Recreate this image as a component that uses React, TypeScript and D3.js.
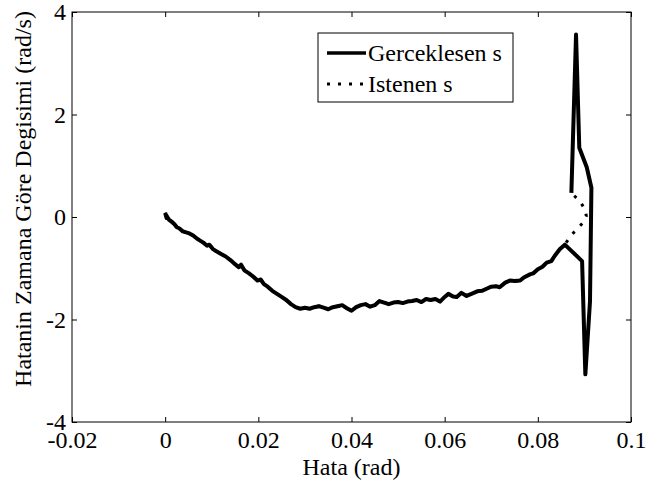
import React, { useEffect, useRef } from "react";
import * as d3 from "d3";

// Gerceklesen s : (hata, hata turevi) pairs
const hataMain = [
  0, 0.0003, 0.0001, 0.0008, 0.0015, 0.002, 0.0025, 0.003, 0.0038, 0.0045,
  0.0052, 0.006, 0.0068, 0.0075, 0.0082, 0.009, 0.0095, 0.0102, 0.011, 0.012,
  0.013, 0.014, 0.015, 0.0158, 0.0163, 0.017, 0.018, 0.019, 0.0198, 0.0205,
  0.0212, 0.022, 0.023, 0.024, 0.025, 0.026, 0.027, 0.028, 0.029, 0.03,
  0.031, 0.032, 0.033, 0.034, 0.035, 0.036, 0.037, 0.038, 0.039, 0.04,
  0.041, 0.042, 0.043, 0.044, 0.045, 0.046, 0.047, 0.048, 0.049, 0.05,
  0.051, 0.052, 0.053, 0.054, 0.055, 0.056, 0.057, 0.058, 0.059, 0.06,
  0.0608, 0.0618, 0.0626, 0.0636, 0.0647, 0.066, 0.067, 0.068, 0.069, 0.07,
  0.071, 0.0718, 0.073, 0.074, 0.075, 0.0762, 0.077, 0.0783, 0.079, 0.08,
  0.081, 0.0819, 0.0829, 0.0836, 0.0847, 0.0858,
];
const turevMain = [
  0.08, -0.02, 0.05, -0.05, -0.1, -0.14, -0.2, -0.22, -0.28, -0.3,
  -0.32, -0.36, -0.42, -0.46, -0.5, -0.56, -0.54, -0.62, -0.67, -0.72,
  -0.77, -0.84, -0.92, -0.98, -0.93, -1.04, -1.1, -1.17, -1.24, -1.22,
  -1.31, -1.36, -1.44, -1.5, -1.56, -1.62, -1.7, -1.76, -1.79, -1.77,
  -1.79, -1.76, -1.74, -1.77, -1.8, -1.76, -1.74, -1.72, -1.78, -1.83,
  -1.76, -1.72, -1.7, -1.75, -1.72, -1.64, -1.67, -1.7, -1.67, -1.66,
  -1.68, -1.65, -1.64, -1.62, -1.66, -1.6, -1.62, -1.6, -1.65, -1.56,
  -1.5, -1.55, -1.56, -1.48, -1.54, -1.49, -1.45, -1.44, -1.4, -1.36,
  -1.35, -1.37, -1.28, -1.24, -1.25, -1.24, -1.18, -1.12, -1.1, -1.02,
  -0.97, -0.89, -0.86, -0.76, -0.63, -0.54,
];
// end of the real trajectory (spikes)
const hataTail = [0.0895, 0.0902, 0.0912, 0.0915, 0.0905, 0.0889, 0.0882, 0.0872];
const turevTail = [-0.86, -3.07, -1.64, 0.57, 0.97, 1.35, 3.56, 0.47];

// Istenen s : follows the main curve, then this small arc
const hataArc = [0.0871, 0.0886, 0.0898, 0.0904, 0.0902, 0.089, 0.0872];
const turevArc = [-0.36, -0.22, -0.1, 0.02, 0.14, 0.31, 0.47];

const xTicks = [-0.02, 0, 0.02, 0.04, 0.06, 0.08, 0.1];
const yTicks = [-4, -2, 0, 2, 4];

const FONT = "'Liberation Serif', 'Times New Roman', serif";
const FS = 24;

function zip(xs: number[], ys: number[]): [number, number][] {
  return xs.map((v, i) => [v, ys[i]]);
}

function drawChart(el: SVGSVGElement) {
  const svg = d3.select(el);
  svg.selectAll("*").remove();

  const width = 671;
  const height = 485;
  const margin = { top: 12, right: 40, bottom: 63, left: 72 };

  const x = d3
    .scaleLinear()
    .domain([-0.02, 0.1])
    .range([margin.left, width - margin.right]);
  const y = d3
    .scaleLinear()
    .domain([-4, 4])
    .range([height - margin.bottom, margin.top]);

  svg.append("rect").attr("width", width).attr("height", height).attr("fill", "#fff");

  const line = d3
    .line<[number, number]>()
    .x((d) => x(d[0]))
    .y((d) => y(d[1]));

  const actual = zip(hataMain, turevMain).concat(zip(hataTail, turevTail));
  const desired = zip(hataMain, turevMain).concat(zip(hataArc, turevArc));

  // dotted first so the solid one covers the shared part
  svg
    .append("path")
    .attr("d", line(desired))
    .attr("fill", "none")
    .attr("stroke", "#000")
    .attr("stroke-width", 3)
    .attr("stroke-dasharray", "3 8");

  svg
    .append("path")
    .attr("d", line(actual))
    .attr("fill", "none")
    .attr("stroke", "#000")
    .attr("stroke-width", 4)
    .attr("stroke-linejoin", "round");

  const fmt = (d: number) => String(+d.toFixed(2));

  const gx = svg
    .append("g")
    .attr("transform", `translate(0,${height - margin.bottom})`)
    .call(d3.axisBottom(x).tickValues(xTicks).tickFormat(fmt as any).tickSizeInner(-5).tickSizeOuter(0).tickPadding(9));
  const gy = svg
    .append("g")
    .attr("transform", `translate(${margin.left},0)`)
    .call(d3.axisLeft(y).tickValues(yTicks).tickFormat(fmt as any).tickSizeInner(-5).tickSizeOuter(0).tickPadding(6));
  svg
    .append("g")
    .attr("transform", `translate(0,${margin.top})`)
    .call(d3.axisTop(x).tickValues(xTicks).tickFormat(() => "").tickSizeInner(-5).tickSizeOuter(0));
  svg
    .append("g")
    .attr("transform", `translate(${width - margin.right},0)`)
    .call(d3.axisRight(y).tickValues(yTicks).tickFormat(() => "").tickSizeInner(-5).tickSizeOuter(0));

  svg.selectAll(".domain").remove();
  svg.selectAll(".tick line").attr("stroke", "#000");
  [gx, gy].forEach((g) =>
    g.selectAll("text").attr("font-family", FONT).attr("font-size", FS).attr("fill", "#000")
  );

  svg
    .append("rect")
    .attr("x", margin.left)
    .attr("y", margin.top)
    .attr("width", width - margin.left - margin.right)
    .attr("height", height - margin.top - margin.bottom)
    .attr("fill", "none")
    .attr("stroke", "#000")
    .attr("stroke-width", 1);

  // axis titles
  svg
    .append("text")
    .attr("x", (margin.left + width - margin.right) / 2)
    .attr("y", 475)
    .attr("text-anchor", "middle")
    .attr("font-family", FONT)
    .attr("font-size", FS)
    .text("Hata (rad)");
  svg
    .append("text")
    .attr("transform", `translate(31,${(margin.top + height - margin.bottom) / 2 - 18}) rotate(-90)`)
    .attr("text-anchor", "middle")
    .attr("font-family", FONT)
    .attr("font-size", FS)
    .text("Hatanin Zamana Göre Degisimi (rad/s)");

  // legend
  const lg = svg.append("g");
  lg.append("rect")
    .attr("x", 318)
    .attr("y", 33)
    .attr("width", 195)
    .attr("height", 69)
    .attr("fill", "#fff")
    .attr("stroke", "#000")
    .attr("stroke-width", 1);
  const items = [
    { label: "Gerceklesen s", dash: null, w: 3.5 },
    { label: "Istenen s", dash: "3 8", w: 3 },
  ];
  items.forEach((it, i) => {
    const cy = 53 + i * 31;
    lg.append("line")
      .attr("x1", 327)
      .attr("x2", 366)
      .attr("y1", cy)
      .attr("y2", cy)
      .attr("stroke", "#000")
      .attr("stroke-width", it.w)
      .attr("stroke-dasharray", it.dash);
    lg.append("text")
      .attr("x", 368)
      .attr("y", cy)
      .attr("dy", "0.35em")
      .attr("font-family", FONT)
      .attr("font-size", FS)
      .text(it.label);
  });
}

export default function App() {
  const ref = useRef<SVGSVGElement>(null);

  useEffect(() => {
    document.body.style.margin = "0";
    if (ref.current) drawChart(ref.current);
  }, []);

  return <svg ref={ref} width={671} height={485} style={{ display: "block" }} />;
}
